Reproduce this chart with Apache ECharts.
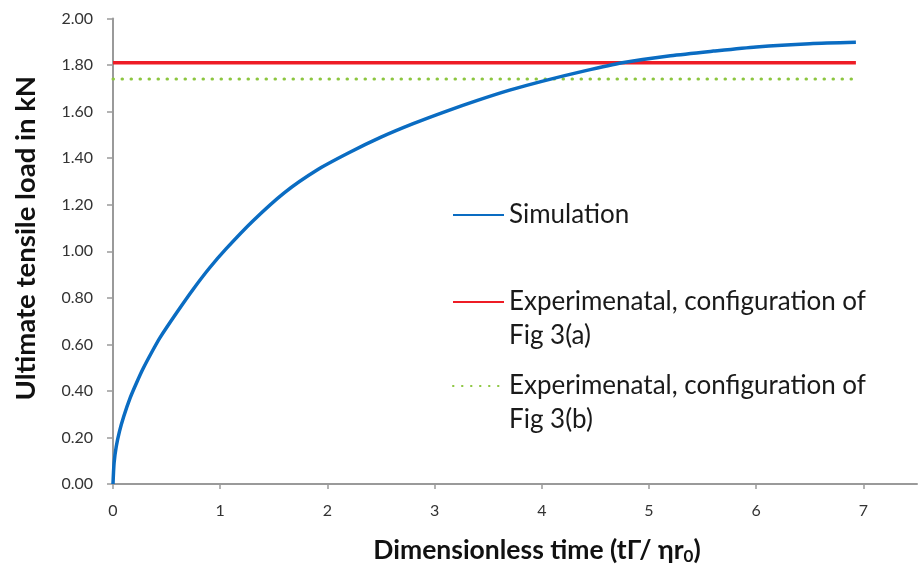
<!DOCTYPE html>
<html>
<head>
<meta charset="utf-8">
<script src="https://cdn.jsdelivr.net/npm/echarts@6/dist/echarts.min.js"></script>
<style>
  html, body { margin: 0; padding: 0; background: #fff; }
  #chart { width: 920px; height: 564px; }
</style>
</head>
<body>
<div id="chart"></div>
<script>
// Dimensionless time (x) and simulated ultimate tensile load in kN (y)
const simTime = [0, 0.01, 0.03, 0.06, 0.10, 0.16, 0.22, 0.28, 0.36, 0.44, 0.60, 0.75, 0.90, 1.05, 1.30, 1.60, 1.90, 2.20, 2.50, 2.80, 3.10, 3.40, 3.70, 4.00, 4.40, 4.75, 5.20, 5.60, 6.00, 6.50, 6.93];
const simLoad = [0, 0.09, 0.16, 0.225, 0.29, 0.37, 0.435, 0.495, 0.565, 0.63, 0.74, 0.838, 0.928, 1.008, 1.128, 1.252, 1.348, 1.423, 1.49, 1.548, 1.60, 1.648, 1.692, 1.73, 1.775, 1.81, 1.84, 1.86, 1.878, 1.892, 1.898];

// Experimental reference levels (kN), drawn across the simulated time span
const expSpan = [0, 6.93];
const expLoadA = 1.81;
const expLoadB = 1.74;

// Axis tick values
const xTicks = [0, 1, 2, 3, 4, 5, 6, 7];
const seriesNames = ['Simulation', 'Experimenatal, configuration of\nFig 3(a)', 'Experimenatal, configuration of\nFig 3(b)'];

const FONT = 'Lato';
const LINE_H = 34;

const chart = echarts.init(document.getElementById('chart'), null, { renderer: 'canvas' });

// One legend block per series; a leading blank line keeps the key line
// level with the first text line of the two-line entries.
function legendFor(name, centerY, twoLine) {
  return {
    data: [name],
    left: 452,
    top: twoLine ? centerY - LINE_H * 1.5 : centerY - LINE_H / 2,
    padding: 0,
    itemWidth: 51,
    itemHeight: 14,
    itemGap: 0,
    selectedMode: false,
    formatter: n => (twoLine ? '\n' + n : n),
    itemStyle: { opacity: 0 },
    textStyle: {
      fontFamily: FONT,
      fontSize: 26,
      color: '#1a1a1a',
      lineHeight: LINE_H
    }
  };
}

chart.setOption({
  animation: false,
  backgroundColor: '#fff',
  grid: { left: 113, right: 3, top: 18.5, bottom: 80, containLabel: false, outerBoundsMode: 'none' },
  legend: [
    legendFor(seriesNames[0], 215, false),
    legendFor(seriesNames[1], 302, true),
    legendFor(seriesNames[2], 386, true)
  ],
  xAxis: {
    type: 'value',
    min: 0,
    max: 7.5,
    interval: 1,
    name: '{t|Dimensionless time (tΓ/ ηr}{s|0}{t|)}',
    nameLocation: 'middle',
    nameGap: 52,
    nameTextStyle: {
      padding: [0, 0, 0, 44],
      rich: {
        t: { fontFamily: FONT, fontSize: 26.5, fontWeight: 'bold', color: '#111' },
        s: { fontFamily: FONT, fontSize: 17, fontWeight: 'bold', color: '#111', padding: [12, 0, 0, 0] }
      }
    },
    axisLine: { lineStyle: { color: '#9a9a9a', width: 2 } },
    axisTick: { show: true, length: 5, customValues: xTicks, lineStyle: { color: '#9a9a9a', width: 1.5 } },
    axisLabel: { customValues: xTicks, margin: 19, fontFamily: FONT, fontSize: 16, color: '#333' },
    splitLine: { show: false }
  },
  yAxis: {
    type: 'value',
    min: 0,
    max: 2,
    interval: 0.2,
    name: 'Ultimate tensile load in kN',
    nameLocation: 'middle',
    nameGap: 73,
    nameRotate: 90,
    nameTextStyle: { fontFamily: FONT, fontSize: 27.5, fontWeight: 'bold', color: '#111', padding: [0, 0, 0, 26] },
    axisLine: { show: true, lineStyle: { color: '#9a9a9a', width: 2 } },
    axisTick: { show: true, length: 6, lineStyle: { color: '#9a9a9a', width: 1.5 } },
    axisLabel: { margin: 20, fontFamily: FONT, fontSize: 16, color: '#333', formatter: v => v.toFixed(2) },
    splitLine: { show: false }
  },
  series: [
    {
      name: seriesNames[0],
      type: 'line',
      data: simTime.map((t, i) => [t, simLoad[i]]),
      symbol: 'none',
      smooth: 0.25,
      lineStyle: { color: '#0a6cc2', width: 3.5 },
      itemStyle: { color: '#0a6cc2' },
      z: 3
    },
    {
      name: seriesNames[1],
      type: 'line',
      data: expSpan.map(t => [t, expLoadA]),
      symbol: 'none',
      lineStyle: { color: '#ee1c25', width: 3.5 },
      itemStyle: { color: '#ee1c25' },
      z: 2
    },
    {
      name: seriesNames[2],
      type: 'line',
      data: expSpan.map(t => [t, expLoadB]),
      symbol: 'none',
      lineStyle: { color: '#8cc63f', width: 3, type: [0.5, 8.5], cap: 'round' },
      itemStyle: { color: '#8cc63f' },
      z: 2
    }
  ]
});
</script>
</body>
</html>
